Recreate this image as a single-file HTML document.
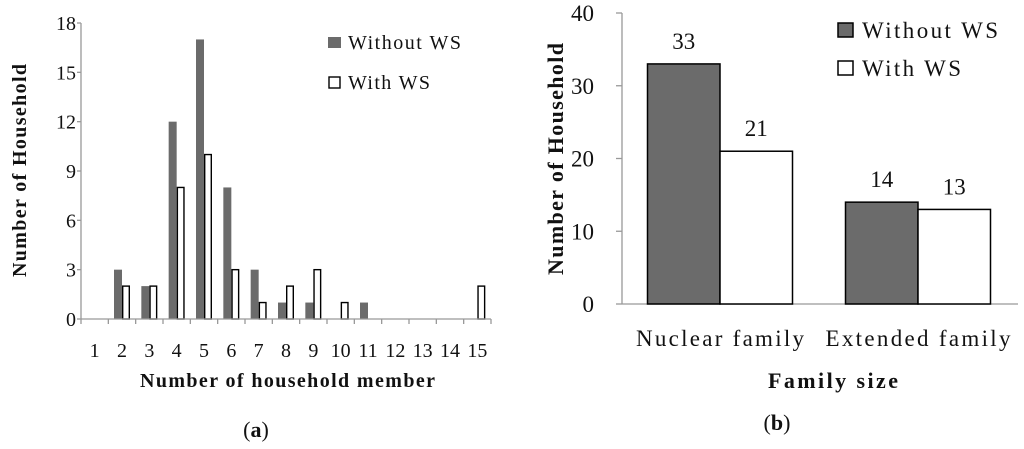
<!DOCTYPE html>
<html><head><meta charset="utf-8"><style>
body{margin:0;background:#fff;}
svg text{font-family:"Liberation Serif",serif;fill:#111;}
</style></head><body>
<svg width="1024" height="444" viewBox="0 0 1024 444" xmlns="http://www.w3.org/2000/svg">
<g id="chartA"></g>
<g id="chartB"></g>
</svg>
<script>
const catsA = ["1","2","3","4","5","6","7","8","9","10","11","12","13","14","15"];
const withoutA = [0,3,2,12,17,8,3,1,1,0,1,0,0,0,0];
const withA = [0,2,2,8,10,3,1,2,3,1,0,0,0,0,2];
const ticksA = [0,3,6,9,12,15,18];
const catsB = ["Nuclear family","Extended family"];
const withoutB = [33,14];
const withB = [21,13];
const ticksB = [0,10,20,30,40];
const NS="http://www.w3.org/2000/svg";
function mk(p,t,a,txt){const e=document.createElementNS(NS,t);for(const k in a)e.setAttribute(k,a[k]);if(txt!==undefined)e.textContent=txt;p.appendChild(e);return e;}

// Chart A
(function(){
const g=document.getElementById('chartA');
const x0=81,x1=491,y0=319,yt=23,ymax=18;
const cw=(x1-x0)/catsA.length;
const y=v=>y0-(v/ymax)*(y0-yt);
const bw=8;
let e=mk(g,'line',{x1:x0,y1:yt,x2:x0,y2:y0,stroke:'#999','stroke-width':1.3});

ticksA.forEach(t=>{
 let l=mk(g,'line',{x1:x0-4,y1:y(t),x2:x0,y2:y(t),stroke:'#999','stroke-width':1.3});
 
 let tx=mk(g,'text',{x:x0-5,y:y(t)+7,'text-anchor':'end','font-size':20},t);
 
});
catsA.forEach((c,i)=>{
 const cx=x0+cw*(i+0.5);
 if(withoutA[i]>0){let r=mk(g,'rect',{x:cx-bw,y:y(withoutA[i]),width:bw,height:y0-y(withoutA[i]),fill:'#6b6b6b'});
 }
 if(withA[i]>0){let r=mk(g,'rect',{x:cx+0.7,y:y(withA[i]),width:bw-1.4,height:y0-y(withA[i]),fill:'#fff',stroke:'#000','stroke-width':1.4});
 }
 let tx=mk(g,'text',{x:cx,y:357,'text-anchor':'middle','font-size':20},c);
 
});
for(let i=0;i<=catsA.length;i++){let l=mk(g,'line',{x1:x0+cw*i,y1:y0,x2:x0+cw*i,y2:y0+5,stroke:'#999','stroke-width':1.3});
 }
e=mk(g,'line',{x1:x0,y1:y0,x2:x1,y2:y0,stroke:'#999','stroke-width':1.3});

e=mk(g,'text',{x:140,y:387,'font-size':20,'font-weight':'bold',textLength:295,lengthAdjust:'spacing'},'Number of household member');

e=mk(g,'text',{x:-106,y:0,'font-size':20,'font-weight':'bold',textLength:213,lengthAdjust:'spacing',transform:'translate(26,171) rotate(-90)'},'Number of Household');

e=mk(g,'text',{x:256,y:437,'text-anchor':'middle','font-size':22},'');
e.innerHTML='(<tspan font-weight="bold">a</tspan>)';

e=mk(g,'rect',{x:328,y:37,width:13,height:11,fill:'#6b6b6b'});

e=mk(g,'text',{x:348,y:49,'font-size':20,textLength:113,lengthAdjust:'spacing'},'Without WS');

e=mk(g,'rect',{x:329,y:77,width:11,height:11,fill:'#fff',stroke:'#000','stroke-width':1.4});

e=mk(g,'text',{x:348,y:89,'font-size':20,textLength:82,lengthAdjust:'spacing'},'With WS');

})();

// Chart B
(function(){
const g=document.getElementById('chartB');
const x0=622,x1=1018,y0=304,yt=13,ymax=40;
const cw=198;const cStart=621;
const y=v=>y0-(v/ymax)*(y0-yt);
const bw=72.5;
const catLen=[168,185];
let e=mk(g,'line',{x1:x0,y1:yt,x2:x0,y2:y0,stroke:'#999','stroke-width':1.3});

ticksB.forEach(t=>{
 let l=mk(g,'line',{x1:x0-6,y1:y(t),x2:x0,y2:y(t),stroke:'#999','stroke-width':1.3});
 
 let tx=mk(g,'text',{x:594,y:y(t)+8,'text-anchor':'end','font-size':23},t);
 
});
e=mk(g,'line',{x1:x0,y1:y0,x2:x1,y2:y0,stroke:'#999','stroke-width':1.3});

catsB.forEach((c,i)=>{
 const cx=cStart+cw*(i+0.5);
 let r=mk(g,'rect',{x:cx-bw,y:y(withoutB[i]),width:bw,height:y0-y(withoutB[i]),fill:'#6b6b6b',stroke:'#000','stroke-width':1.5});
 
 r=mk(g,'rect',{x:cx,y:y(withB[i]),width:bw,height:y0-y(withB[i]),fill:'#fff',stroke:'#000','stroke-width':1.5});
 
 let t=mk(g,'text',{x:cx-bw/2,y:y(withoutB[i])-15,'text-anchor':'middle','font-size':23},withoutB[i]);
 
 t=mk(g,'text',{x:cx+bw/2,y:y(withB[i])-15,'text-anchor':'middle','font-size':23},withB[i]);
 
 t=mk(g,'text',{x:cx-catLen[i]/2,y:346,'font-size':23,textLength:catLen[i],lengthAdjust:'spacing'},c);
 
});
e=mk(g,'text',{x:768,y:388,'font-size':22,'font-weight':'bold',textLength:130,lengthAdjust:'spacing'},'Family size');

e=mk(g,'text',{x:-116,y:0,'font-size':22,'font-weight':'bold',textLength:232,lengthAdjust:'spacing',transform:'translate(563,159) rotate(-90)'},'Number of Household');

e=mk(g,'text',{x:777,y:430,'text-anchor':'middle','font-size':22},'');
e.innerHTML='(<tspan font-weight="bold">b</tspan>)';

e=mk(g,'rect',{x:838,y:23,width:15,height:14,fill:'#6b6b6b',stroke:'#000','stroke-width':1.5});

e=mk(g,'text',{x:862,y:38,'font-size':23,textLength:136,lengthAdjust:'spacing'},'Without WS');

e=mk(g,'rect',{x:838,y:61,width:15,height:14,fill:'#fff',stroke:'#000','stroke-width':1.5});

e=mk(g,'text',{x:862,y:76,'font-size':23,textLength:99,lengthAdjust:'spacing'},'With WS');

})();
</script>
</body></html>
